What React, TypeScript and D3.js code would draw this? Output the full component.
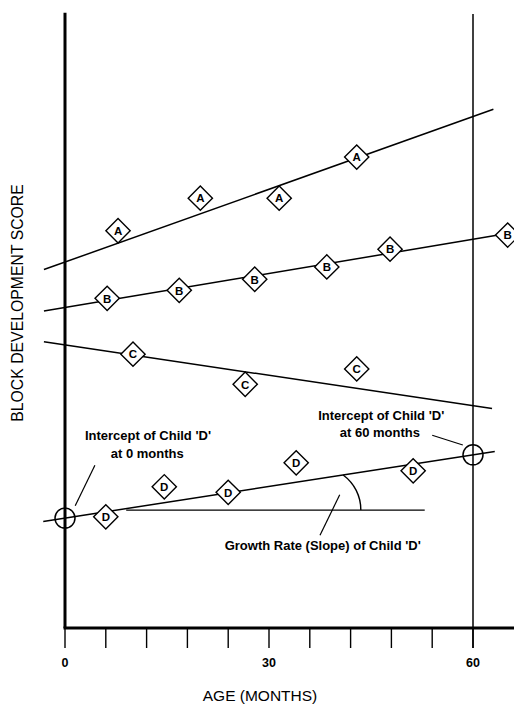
import React from "react";
import * as d3 from "d3";

// ---- data (months, block development score) ----
const children = ["A", "B", "C", "D"];
const lineStartMonth = [-3.1, -3.1, -3.1, -3.2];
const lineEndMonth = [63.0, 63.5, 62.8, 63.2];
const interceptAt0 = [59.6, 52.2, 46.1, 17.9];
const valueAt60 = [83.3, 63.3, 36.2, 28.2];

const monthsA = [7.8, 19.9, 31.5, 42.9];
const scoresA = [64.7, 70.0, 70.0, 76.7];
const monthsB = [6.2, 16.8, 27.9, 38.5, 47.8, 65.1];
const scoresB = [53.7, 55.0, 56.8, 58.8, 61.7, 64.0];
const monthsC = [10.0, 26.5, 42.9];
const scoresC = [44.6, 39.7, 42.2];
const monthsD = [6.0, 14.6, 24.0, 34.0, 51.2];
const scoresD = [18.1, 23.0, 22.1, 26.9, 25.6];

const xTicks = [0, 6, 12, 18, 24, 30, 36, 42, 48, 54, 60];
const xTickLabels = ["0", "30", "60"];
const xTickLabelValues = [0, 30, 60];

const xAxisTitle = "AGE (MONTHS)";
const yAxisTitle = "BLOCK DEVELOPMENT SCORE";

// annotations (data units)
const refLineScore = 19.2;
const refLineFrom = 9;
const refLineTo = 52.9;
const arcFromMonth = 40.9;
const arcToMonth = 43.5;
const annoTexts = [
  "Intercept of Child 'D'",
  "at 0 months",
  "Intercept of Child 'D'",
  "at 60 months",
  "Growth Rate (Slope) of Child 'D'",
];
const annoMonths = [12.2, 12.1, 46.5, 46.3, 37.9];
const annoScores = [31.4, 28.5, 34.7, 31.8, 13.4];
const leaderFromMonths = [4.4, 54.0, 37.5];
const leaderFromScores = [26.5, 31.4, 15.1];
const leaderToMonths = [1.5, 58.5, 40.4];
const leaderToScores = [19.9, 29.8, 21.7];

const W = 514;
const H = 704;
const FONT = "'Liberation Sans', Arial, Helvetica, sans-serif";

export default function App() {
  const x = d3.scaleLinear().domain([0, 60]).range([65, 473]);
  const y = d3.scaleLinear().domain([0, 100]).range([628, 14]);

  const lineVal = (i: number, m: number) =>
    interceptAt0[i] + ((valueAt60[i] - interceptAt0[i]) * m) / 60;

  const lineGen = d3
    .line<[number, number]>()
    .x((d) => x(d[0]))
    .y((d) => y(d[1]));

  const points: { id: string; m: number; s: number }[] = [];
  monthsA.forEach((m, i) => points.push({ id: "A", m, s: scoresA[i] }));
  monthsB.forEach((m, i) => points.push({ id: "B", m, s: scoresB[i] }));
  monthsC.forEach((m, i) => points.push({ id: "C", m, s: scoresC[i] }));
  monthsD.forEach((m, i) => points.push({ id: "D", m, s: scoresD[i] }));

  const diamond = d3.symbol().type(d3.symbolSquare).size(295)();

  const arcP1 = [x(arcFromMonth), y(lineVal(3, arcFromMonth))];
  const arcP2 = [x(arcToMonth), y(refLineScore)];
  const arcPath = `M${arcP1[0]},${arcP1[1]} A43,43 0 0 1 ${arcP2[0]},${arcP2[1]}`;

  const axisY = y(0);
  const x0 = x(0);

  return (
    <svg
      width={W}
      height={H}
      style={{ position: "absolute", left: 0, top: 0, background: "#fff" }}
      fontFamily={FONT}
    >
      <rect x={0} y={0} width={W} height={H} fill="#fff" />
      {/* 60-month vertical line */}
      <line x1={x(60)} x2={x(60)} y1={y(100)} y2={axisY + 20} stroke="#000" strokeWidth={1.5} />

      {/* regression lines */}
      {children.map((c, i) => (
        <path
          key={c}
          d={
            lineGen([
              [lineStartMonth[i], lineVal(i, lineStartMonth[i])],
              [lineEndMonth[i], lineVal(i, lineEndMonth[i])],
            ]) as string
          }
          stroke="#000"
          strokeWidth={1.5}
          fill="none"
        />
      ))}

      {/* slope reference line and arc */}
      <line
        x1={x(refLineFrom)}
        x2={x(refLineTo)}
        y1={y(refLineScore)}
        y2={y(refLineScore)}
        stroke="#000"
        strokeWidth={1.2}
      />
      <path d={arcPath} stroke="#000" strokeWidth={1.4} fill="none" />

      {/* axes */}
      <line x1={x0} x2={x0} y1={y(100.2)} y2={axisY} stroke="#000" strokeWidth={3} />
      <line x1={x0 - 1.5} x2={W} y1={axisY} y2={axisY} stroke="#000" strokeWidth={3} />
      {xTicks.map((t) => (
        <line key={t} x1={x(t)} x2={x(t)} y1={axisY} y2={axisY + 20} stroke="#000" strokeWidth={1.4} />
      ))}
      {xTickLabelValues.map((t, i) => (
        <text
          key={t}
          x={x(t)}
          y={axisY + 39}
          textAnchor="middle"
          fontSize={12.5}
          fontWeight="bold"
        >
          {xTickLabels[i]}
        </text>
      ))}
      <text x={260} y={701} textAnchor="middle" fontSize={15.5}>
        {xAxisTitle}
      </text>
      <text transform="translate(23,303) rotate(-90)" textAnchor="middle" fontSize={15.8}>
        {yAxisTitle}
      </text>

      {/* intercept circles */}
      {[0, 60].map((m) => (
        <circle key={m} cx={x(m)} cy={y(lineVal(3, m))} r={10} stroke="#000" strokeWidth={1.5} fill="none" />
      ))}

      {/* markers */}
      {points.map((p, i) => (
        <g key={i} transform={`translate(${x(p.m)},${y(p.s)})`}>
          <path d={diamond as string} transform="rotate(45)" fill="#fff" stroke="#000" strokeWidth={1.4} />
          <text textAnchor="middle" dy="0.37em" fontSize={11.5} fontWeight="bold">
            {p.id}
          </text>
        </g>
      ))}

      {/* leader lines */}
      {leaderFromMonths.map((m, i) => (
        <line
          key={i}
          x1={x(m)}
          y1={y(leaderFromScores[i])}
          x2={x(leaderToMonths[i])}
          y2={y(leaderToScores[i])}
          stroke="#000"
          strokeWidth={1.2}
        />
      ))}

      {/* annotation text */}
      {annoTexts.map((t, i) => (
        <text
          key={i}
          x={x(annoMonths[i])}
          y={y(annoScores[i])}
          dy="0.36em"
          textAnchor="middle"
          fontSize={13}
          fontWeight="bold"
        >
          {t}
        </text>
      ))}
    </svg>
  );
}
